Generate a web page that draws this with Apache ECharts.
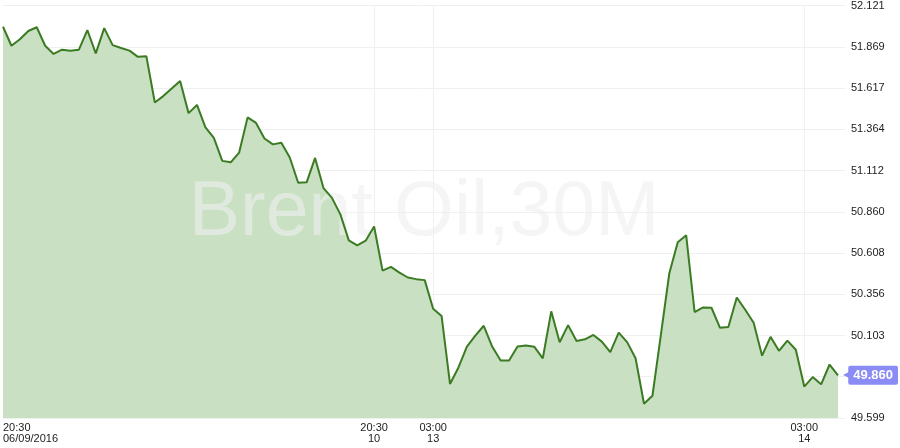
<!DOCTYPE html>
<html>
<head>
<meta charset="utf-8">
<script src="https://cdn.jsdelivr.net/npm/echarts@6/dist/echarts.min.js"></script>
<style>html,body{margin:0;padding:0;background:#fff;}#c{width:900px;height:448px;}</style>
</head>
<body>
<div id="c"></div>
<script>
// ---- data ----
const prices = [
  51.991, 51.875, 51.915, 51.965, 51.988, 51.875, 51.825, 51.851, 51.845, 51.851,
  51.971, 51.828, 51.983, 51.879, 51.861, 51.845, 51.807, 51.810, 51.528, 51.567,
  51.613, 51.660, 51.463, 51.513, 51.376, 51.312, 51.171, 51.162, 51.222, 51.437,
  51.403, 51.308, 51.272, 51.282, 51.192, 51.037, 51.040, 51.189, 51.005, 50.945,
  50.844, 50.685, 50.655, 50.683, 50.770, 50.500, 50.523, 50.488, 50.458, 50.448,
  50.442, 50.267, 50.223, 49.807, 49.908, 50.036, 50.102, 50.163, 50.036, 49.950,
  49.950, 50.036, 50.042, 50.034, 49.964, 50.251, 50.062, 50.167, 50.070, 50.080,
  50.107, 50.066, 50.002, 50.121, 50.063, 49.964, 49.686, 49.735, 50.107, 50.484,
  50.673, 50.716, 50.247, 50.275, 50.273, 50.151, 50.155, 50.336, 50.261, 50.181,
  49.980, 50.095, 50.010, 50.072, 50.016, 49.791, 49.849, 49.805, 49.926, 49.860
];
const tickIndex = [0, 44, 51, 95];
const tickText = ['20:30\n06/09/2016', '20:30\n10', '03:00\n13', '03:00\n14'];
const yMin = 49.599, yMax = 52.121, yStep = 0.2522;
const lastValue = 49.860;
const watermark = 'Brent Oil,30M';

const categories = prices.map((_, i) => String(i));
const isTick = (i) => tickIndex.indexOf(i) !== -1;

const chart = echarts.init(document.getElementById('c'), null, {renderer: 'canvas'});
chart.setOption({
  animation: false,
  backgroundColor: '#ffffff',
  textStyle: {fontFamily: '"Liberation Sans", Arial, sans-serif'},
  grid: {left: 3, right: 62, top: 0, bottom: 30, containLabel: false},
  graphic: [{
    type: 'text', z: 2, silent: true,
    x: 424, y: 214,
    style: {
      text: watermark,
      fontSize: 77, fontFamily: '"Liberation Sans", Arial, sans-serif',
      fill: 'rgba(238,238,238,0.6)', textAlign: 'center', textVerticalAlign: 'middle'
    }
  }],
  xAxis: {
    type: 'category',
    data: categories,
    boundaryGap: false,
    axisLine: {show: false},
    axisTick: {show: false},
    axisLabel: {
      interval: (i) => isTick(i),
      formatter: (v) => { const k = tickIndex.indexOf(Number(v)); return k >= 0 ? tickText[k] : ''; },
      color: '#222', fontSize: 11, lineHeight: 11, margin: 4,
      alignMinLabel: 'left'
    },
    splitLine: {show: true, interval: (i) => isTick(i) && i !== 0, lineStyle: {color: '#f0f0f0', width: 1}}
  },
  yAxis: {
    type: 'value',
    position: 'right',
    min: yMin, max: yMax, interval: yStep,
    axisLine: {show: false},
    axisTick: {show: true, length: 7, lineStyle: {color: '#f0f0f0'}},
    axisLabel: {
      color: '#222', fontSize: 11, margin: 13,
      formatter: (v) => Math.abs(v - 49.851) < 0.001 ? '' : v.toFixed(3)
    },
    splitLine: {show: true, lineStyle: {color: '#f0f0f0', width: 1}}
  },
  series: [
    {
      type: 'line', data: prices, z: 1, symbol: 'none', silent: true,
      lineStyle: {width: 0, opacity: 0},
      areaStyle: {color: '#c9e0c3', opacity: 1, origin: 'start'}
    },
    {
      type: 'line', data: prices, z: 3, symbol: 'none', clip: false,
      lineStyle: {width: 2, color: '#3b7b23'},
      markLine: {
        silent: true, symbol: 'none',
        lineStyle: {color: 'rgba(0,0,0,0)', width: 0, type: 'solid'},
        label: {
          show: true, position: 'end', distance: 5,
          formatter: () => '{a|◀}{b|' + lastValue.toFixed(3) + '}',
          rich: {
            a: {color: '#8b8bf5', fontSize: 12, padding: [0, -4, 0, 0], fontFamily: 'DejaVu Sans'},
            b: {backgroundColor: '#8b8bf5', color: '#ffffff', fontWeight: 'bold', fontSize: 13,
                padding: [3, 5, 3, 5], borderRadius: 2, fontFamily: '"Liberation Sans", Arial, sans-serif'}
          }
        },
        data: [{yAxis: lastValue}]
      }
    }
  ]
});
</script>
</body>
</html>
